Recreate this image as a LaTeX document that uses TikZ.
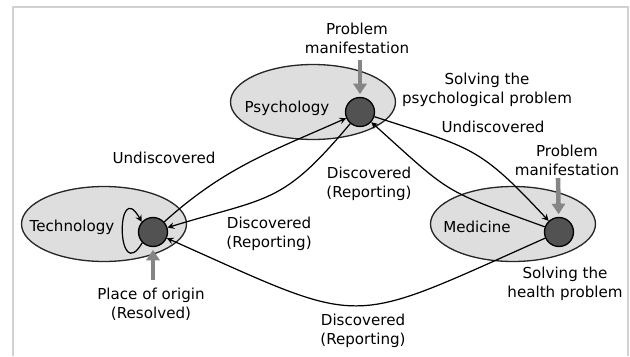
\documentclass[tikz,border=0pt]{standalone}
\usepackage{fontspec}
\setmainfont{DejaVu Sans}
\usetikzlibrary{shapes.geometric, arrows.meta}

\tikzset{
  every area/.style={ellipse, draw=black!85, fill=black!13, line width=0.75pt,
    minimum width=3.3cm, minimum height=1.5cm},
  every spot/.style={circle, draw=black, fill=black!68, line width=0.75pt,
    minimum size=0.58cm, inner sep=0pt},
  note arrow/.style={draw=black!48, line width=2.6pt,
    -{Triangle[length=6pt, width=7.5pt]}, shorten >=1.5pt},
  label text/.style={align=center, inner sep=1pt}
}

\begin{document}
\begin{tikzpicture}[x=0.02cm, y=0.02cm, >=stealth, line width=0.7pt,
  every node/.style={font=\fontsize{8.6}{10.8}\selectfont}]

  \useasboundingbox (0,0) rectangle (630,356);
  \draw [black!18, line width=0.8pt] (13,0) -- (13,349) -- (628,349) -- (628,0);

  % the three fields
  \foreach \m/\l/\x/\y/\dx/\dy/\lx/\ly in
      {tech/Technology/104/132/49/-8/-32/-3,
       psy/Psychology/313/254/47/-10/-26/-6,
       med/Medicine/513/132/46/-8/-36/-3}
  {
    \node [every area] (\m-area) at (\x,\y) {};
    \node [every spot] (\m-dot) at (\x+\dx,\y+\dy) {};
    \node [label text] (\m-name) at (\x+\lx,\y+\ly) {\l};
  }

  % where the problem enters
  \coordinate (psy-in) at (360,296);
  \coordinate (med-in) at (558,178);
  \coordinate (tech-in) at (153,76);
  \foreach \m in {psy, med, tech}
    \draw [note arrow] (\m-in) -- (\m-dot);

  \node [label text] (psy-note) at (357,318) {Problem\\manifestation};
  \node [label text] (med-note) at (567,196) {Problem\\manifestation};
  \node [label text] (tech-note) at (151,52) {Place of origin\\(Resolved)};
  \node [label text] (psy-solve) at (487,266) {Solving the\\psychological problem};
  \node [label text] (med-solve) at (565,72) {Solving the\\health problem};

  % transitions
  \draw [->] (tech-dot.225) .. controls +(-26,-44) and +(-26,46) .. (tech-dot.138);
  \draw [->] (tech-dot) to [out=42, in=204] (psy-dot);
  \draw [->] (psy-dot) to [out=230, in=17, looseness=1.3] (tech-dot);
  \draw [->] (psy-dot) to [out=-18, in=133, looseness=1.3] (med-dot);
  \draw [->] (med-dot) to [out=160, in=-42, looseness=1.4] (psy-dot);
  \draw [->] (med-dot) to [out=204, in=336, looseness=1.5] (tech-dot);

  \node [label text] (undisc-left) at (164,198) {Undiscovered};
  \node [label text] (undisc-right) at (493,229) {Undiscovered};
  \node [label text] (disc-mid) at (369,172) {Discovered\\(Reporting)};
  \node [label text] (disc-left) at (269,122) {Discovered\\(Reporting)};
  \node [label text] (disc-bottom) at (363,25) {Discovered\\(Reporting)};

\end{tikzpicture}
\end{document}
